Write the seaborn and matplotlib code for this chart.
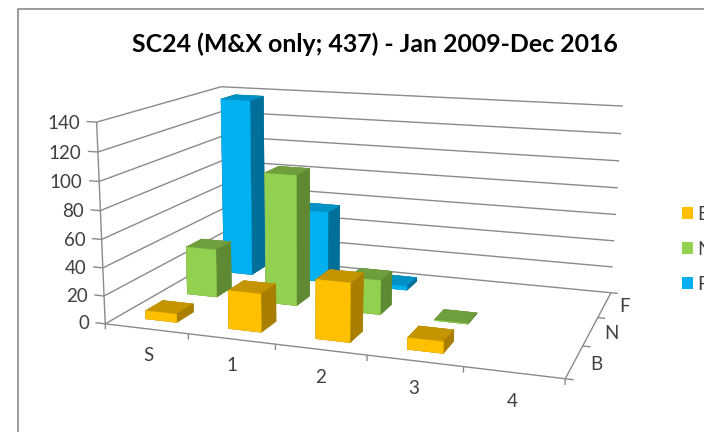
# Load libraries
import numpy as np
import pandas as pd
import matplotlib
matplotlib.use("Agg")
import matplotlib.pyplot as plt
from matplotlib.lines import Line2D
from matplotlib.patches import Patch
from mpl_toolkits.mplot3d import proj3d
from mpl_toolkits.mplot3d.art3d import Line3DCollection
import seaborn as sns

# Values
periods = ["S", "1", "2", "3", "4"]
classes = ["B", "N", "F"]
b_counts = [6, 27, 41, 8, 0]
n_counts = [36, 96, 25, 0.5, 0]
f_counts = [137, 55, 3, 0, 0]
z_ticks = [0, 20, 40, 60, 80, 100, 120, 140]

title = "SC24 (M&X only; 437) - Jan 2009-Dec 2016"

front_colors = ["#FFC000", "#92D050", "#00B0F0"]
top_colors = ["#C49500", "#6F9E3C", "#0092C6"]
side_colors = ["#A87F00", "#5F8A33", "#006F9A"]
line_color = "#8A8A8A"
text_color = "#404040"

# Long table of the bars
bars = pd.DataFrame({
    "period": np.tile(np.arange(len(periods)), len(classes)),
    "row": np.repeat(np.arange(len(classes)), len(periods)),
    "count": b_counts + n_counts + f_counts,
})
bars = bars[bars["count"] > 0]

sns.set_theme(style="white")
plt.rcParams["font.family"] = ["Lato", "DejaVu Sans"]

fig = plt.figure(figsize=(7.04, 4.32), dpi=100, facecolor="white")
# square axes wider than the figure, so nothing gets clipped
ax = fig.add_axes([0, -0.3148, 1, 1.6296], projection="3d", computed_zorder=False)
ax.set_axis_off()
ax.apply_aspect()

# Fit the camera of the original chart from the box corners
n_x, n_y, z_top = len(periods), len(classes), z_ticks[-1]
corners = np.array([
    [0, 0, 0], [0, 0, z_top], [0, n_y, 0], [0, n_y, z_top],
    [n_x, n_y, 0], [n_x, n_y, z_top], [n_x, 0, 0],
], dtype=float)
corner_px = np.array([
    [108, 322], [94, 122], [221, 258], [224, 86],
    [612, 290], [622, 107], [565, 381],
], dtype=float)
corner_px[:, 1] = 432 - corner_px[:, 1]
uv = ax.transData.inverted().transform(corner_px)

rows_a, rows_b = [], []
for (x, y, z), (u, v) in zip(corners, uv):
    rows_a.append([x, y, z, 1, 0, 0, 0, 0, -u * x, -u * y, -u * z])
    rows_a.append([0, 0, 0, 0, x, y, z, 1, -v * x, -v * y, -v * z])
    rows_b += [u, v]
h = np.linalg.lstsq(np.array(rows_a), np.array(rows_b), rcond=None)[0]
M = np.array([
    [h[0], h[1], h[2], h[3]],
    [h[4], h[5], h[6], h[7]],
    [h[8], h[9], h[10], 0.5],
    [h[8], h[9], h[10], 1.0],
])
ax.get_proj = lambda: M


def label_at(x, y, z, text, ha="center"):
    # put a tick label at a 3D position, as plain 2D text
    u, v, _ = proj3d.proj_transform(x, y, z, M)
    ax.text2D(u, v, text, transform=ax.transData, ha=ha, va="center", fontsize=13.5, color=text_color)


# Walls, box edges and tick marks
segments = []
for z in z_ticks:
    segments.append([(0, 0, z), (0, n_y, z)])
    segments.append([(0, n_y, z), (n_x, n_y, z)])
    segments.append([(0, 0, z), (-0.12, 0, z)])
segments.append([(0, 0, 0), (0, 0, z_top)])
segments.append([(0, 0, 0), (n_x, 0, 0)])
segments.append([(n_x, 0, 0), (n_x, n_y, 0)])
for i in range(n_x + 1):
    segments.append([(i, 0, 0), (i, 0, -4)])
for j in range(n_y + 1):
    segments.append([(n_x, j, 0), (n_x + 0.08, j, 0)])
ax.add_collection3d(Line3DCollection(segments, colors=line_color, linewidths=1.0, zorder=1))

# Tick labels
for z in z_ticks:
    label_at(-0.2, 0, z - 1.5, str(z), ha="right")
for i, name in enumerate(periods):
    label_at(i + 0.65 - 0.026 * i, -0.25, -12.5, name)
for j, name in enumerate(classes):
    label_at(n_x + 0.22, j + 0.5, 0, name)

# Bars, one colour per face: -z, +z, -y, +y, -x, +x
width, depth = 0.38, 0.4
face_colors = []
for row in bars["row"]:
    face_colors += [side_colors[row], top_colors[row], front_colors[row],
                    side_colors[row], side_colors[row], side_colors[row]]
ax.bar3d(bars["period"] + 0.52 - width / 2, bars["row"] + 0.5 - depth / 2, np.zeros(len(bars)),
         width, depth, bars["count"], color=face_colors, edgecolors=face_colors, linewidth=0.3,
         shade=False, zsort="average", zorder=3)

fig.suptitle(title, x=0.5327, y=0.897, ha="center", va="center", fontsize=17.9, fontweight="bold", color="black")

handles = [Patch(facecolor=c, edgecolor="none") for c in front_colors]
fig.legend(handles, classes, loc="center left", bbox_to_anchor=(0.9688, 0.4236), frameon=False,
           fontsize=13.5, labelspacing=0.96, handlelength=0.6, handleheight=0.6,
           handletextpad=0.2, borderpad=0, borderaxespad=0, labelcolor=text_color)

# Chart frame, cut off by the screenshot on the right and at the bottom
fig.add_artist(Line2D([18 / 704, 18 / 704, 1], [0, 1 - 9 / 432, 1 - 9 / 432], color=line_color, lw=1.2))

plt.savefig("out.png", dpi=100)
